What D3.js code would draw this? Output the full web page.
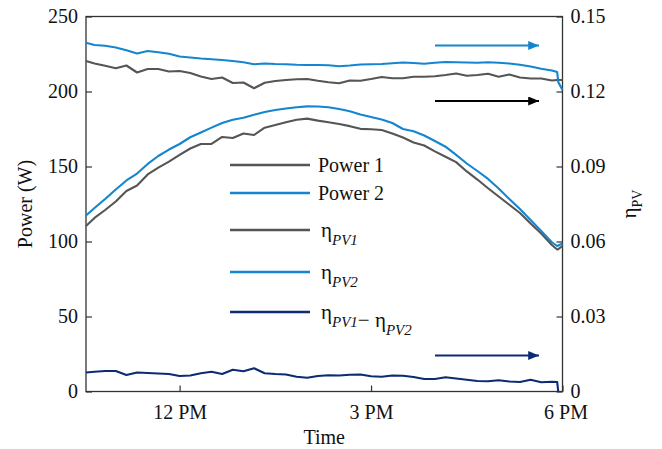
<!DOCTYPE html>
<html>
<head>
<meta charset="utf-8">
<script src="https://cdn.jsdelivr.net/npm/d3@7"></script>
<style>
  body { margin: 0; background: #fff; }
</style>
</head>
<body>
<div id="chart"></div>
<script>
'use strict';

// sample times (clock)
var times = ["10:32", "10:40", "10:50", "11:00", "11:10", "11:20", "11:30", "11:40", "11:50",
    "12:00", "12:10", "12:20", "12:30", "12:40", "12:50", "13:00", "13:10", "13:20", "13:30",
    "13:40", "13:50", "14:00", "14:10", "14:20", "14:30", "14:40", "14:50", "15:00", "15:10",
    "15:20", "15:30", "15:40", "15:50", "16:00", "16:10", "16:20", "16:30", "16:40", "16:50",
    "17:00", "17:10", "17:20", "17:30", "17:40", "17:50", "17:55", "17:56", "18:00"];

// W, left axis
var power1 = [110.3, 115.7, 121, 126.7, 133.7, 137.3, 144.7, 149.3, 153.2,
    157.7, 162, 165, 165.1, 169.7, 169, 172, 171, 175.9, 177.7,
    179.5, 181.2, 181.9, 180.6, 179.5, 178.3, 176.9, 175.1, 174.8, 174.3,
    172, 169.3, 166, 164, 160.1, 156.5, 152.9, 146.7, 141.3, 135.5,
    130, 124.5, 119, 112, 105.3, 97.7, 94.7, 94.9, 97];

var power2 = [117.3, 122.3, 128.3, 134.7, 140.7, 145.3, 151.7, 157, 161.3,
    165, 169.5, 172.7, 175.9, 179, 181.2, 182.5, 184.5, 186.3, 187.7,
    188.7, 189.5, 190.1, 190, 189.5, 188.3, 186.8, 184.7, 183, 181.4,
    179, 175, 173.5, 170.7, 167, 163.2, 157.7, 152, 147, 141.7,
    135.3, 128.3, 121.7, 114.3, 107, 99.5, 97, 97.3, 98.7];

// efficiency, right axis
var etaPV1 = [0.1322, 0.1312, 0.1303, 0.1293, 0.1304, 0.1276, 0.129, 0.129, 0.128,
    0.1282, 0.1274, 0.126, 0.125, 0.1256, 0.1234, 0.1236, 0.1213, 0.1235, 0.1242,
    0.1246, 0.1249, 0.125, 0.1243, 0.1237, 0.1233, 0.1244, 0.1243, 0.125, 0.1258,
    0.1253, 0.1253, 0.1259, 0.1259, 0.1261, 0.1266, 0.1272, 0.1263, 0.1266, 0.1271,
    0.1259, 0.1268, 0.1256, 0.1252, 0.1252, 0.1244, 0.1246, 0.1246, 0.1246];

var etaPV2 = [0.1395, 0.1386, 0.1383, 0.1376, 0.1365, 0.1352, 0.1362, 0.1357, 0.1351,
    0.134, 0.1336, 0.1332, 0.1329, 0.1326, 0.1322, 0.1317, 0.1309, 0.1312, 0.131,
    0.1309, 0.1307, 0.1306, 0.1306, 0.1305, 0.1301, 0.1304, 0.1308, 0.1309, 0.131,
    0.1313, 0.1316, 0.1314, 0.1311, 0.1315, 0.1318, 0.1317, 0.1316, 0.1315, 0.1317,
    0.1315, 0.1312, 0.1307, 0.13, 0.1291, 0.1284, 0.1278, 0.1238, 0.1206];

var etaDiff = [0.0076, 0.0079, 0.0082, 0.0082, 0.0066, 0.0076, 0.0074, 0.0072, 0.007,
    0.0062, 0.0064, 0.0073, 0.0079, 0.007, 0.0087, 0.0081, 0.0093, 0.0073, 0.007,
    0.0068, 0.0059, 0.0055, 0.0062, 0.0065, 0.0064, 0.0067, 0.0068, 0.0061, 0.0059,
    0.0064, 0.0063, 0.0058, 0.005, 0.005, 0.0057, 0.0052, 0.0047, 0.0042, 0.0041,
    0.0045, 0.004, 0.0038, 0.0047, 0.0037, 0.0039, 0.0038, 0, null];

var powerTicks = [0, 50, 100, 150, 200, 250];
var etaTicks = [0, 0.03, 0.06, 0.09, 0.12, 0.15];
var hourTicks = [12, 15, 18];
var hourLabels = ["12 PM", "3 PM", "6 PM"];

var width = 662, height = 449;
var plotLeft = 86, plotRight = 562.5, plotTop = 16.5, plotBottom = 391.5;
var serif = "'Liberation Serif', 'Times New Roman', Times, serif";

var toHours = function (s) {
    var p = s.split(":");
    return +p[0] + (+p[1]) / 60;
};
var hours = times.map(toHours);

var svg = d3.select("#chart").append("svg")
    .attr("width", width)
    .attr("height", height)
    .style("font-family", serif);

var x = d3.scaleLinear().domain([hours[0], 18]).range([plotLeft, plotRight]);
var yPower = d3.scaleLinear().domain([0, 250]).range([plotBottom, plotTop]);
var yEta = d3.scaleLinear().domain([0, 0.15]).range([plotBottom, plotTop]);

var colGray = "#555555", colBlue = "#1386cf", colNavy = "#0c2b72";

// axes, ticks pointing inward
var axisLeft = d3.axisLeft(yPower).tickValues(powerTicks).tickSizeInner(-6).tickSizeOuter(0).tickPadding(8);
var axisRight = d3.axisRight(yEta).tickValues(etaTicks).tickSizeInner(-6).tickSizeOuter(0).tickPadding(8)
    .tickFormat(function (d) { return d === 0 ? "0" : d3.format(".2f")(d); });
var axisBottom = d3.axisBottom(x).tickValues(hourTicks).tickSizeInner(-6).tickSizeOuter(0).tickPadding(13.5)
    .tickFormat(function (d, i) { return hourLabels[i]; });

var styleAxis = function (g) {
    g.attr("font-family", null);
    g.select(".domain").remove();
    g.selectAll(".tick line").attr("stroke", "#333").attr("stroke-width", 1.2);
    g.selectAll(".tick text").style("font-size", "20px").attr("fill", "#111");
};

svg.append("g").attr("transform", "translate(" + plotLeft + ",0)").call(axisLeft).call(styleAxis);
svg.append("g").attr("transform", "translate(" + plotRight + ",0)").call(axisRight).call(styleAxis);
var gx = svg.append("g").attr("transform", "translate(0," + plotBottom + ")").call(axisBottom).call(styleAxis);
// last label sits a bit right of its tick, as in the original
gx.selectAll(".tick text").filter(function (d) { return d === 18; }).attr("dx", 3);

svg.append("rect")
    .attr("x", plotLeft)
    .attr("y", plotTop)
    .attr("width", plotRight - plotLeft)
    .attr("height", plotBottom - plotTop)
    .attr("fill", "none")
    .attr("stroke", "#333")
    .attr("stroke-width", 1.3);

// series
var series = [
    { values: power1, y: yPower, color: colGray },
    { values: power2, y: yPower, color: colBlue },
    { values: etaPV1, y: yEta, color: colGray },
    { values: etaPV2, y: yEta, color: colBlue },
    { values: etaDiff, y: yEta, color: colNavy }
];

series.forEach(function (s) {
    var line = d3.line()
        .defined(function (d) { return d !== null; })
        .x(function (d, i) { return x(hours[i]); })
        .y(function (d) { return s.y(d); });
    svg.append("path")
        .datum(s.values)
        .attr("d", line)
        .attr("fill", "none")
        .attr("stroke", s.color)
        .attr("stroke-width", 2.1)
        .attr("stroke-linejoin", "round");
});

// arrows showing which axis the curves belong to
var defs = svg.append("defs");
var arrows = [
    { id: "arrBlue", color: colBlue, y: 45.5 },
    { id: "arrBlack", color: "#000", y: 101 },
    { id: "arrNavy", color: colNavy, y: 355.5 }
];
arrows.forEach(function (a) {
    defs.append("marker")
        .attr("id", a.id)
        .attr("viewBox", "0 0 12 10")
        .attr("refX", 12)
        .attr("refY", 5)
        .attr("markerUnits", "userSpaceOnUse")
        .attr("markerWidth", 13)
        .attr("markerHeight", 9)
        .attr("orient", "auto")
        .append("path")
        .attr("d", "M0,0 L12,5 L0,10 Z")
        .attr("fill", a.color);
    svg.append("line")
        .attr("x1", 435)
        .attr("x2", 539)
        .attr("y1", a.y)
        .attr("y2", a.y)
        .attr("stroke", a.color)
        .attr("stroke-width", 2)
        .attr("marker-end", "url(#" + a.id + ")");
});

// legend
var legendItems = [
    { parts: [["Power 1", ""]], color: colGray, y: 165 },
    { parts: [["Power 2", ""]], color: colBlue, y: 193 },
    { parts: [["\u03b7", "PV1"]], color: colGray, y: 230 },
    { parts: [["\u03b7", "PV2"]], color: colBlue, y: 272 },
    { parts: [["\u03b7", "PV1"], ["\u2212 \u03b7", "PV2"]], color: colNavy, y: 312 }
];

legendItems.forEach(function (item) {
    svg.append("line")
        .attr("x1", 230)
        .attr("x2", 310)
        .attr("y1", item.y)
        .attr("y2", item.y)
        .attr("stroke", item.color)
        .attr("stroke-width", 2.4);

    var isEta = item.parts[0][1] !== "";
    var t = svg.append("text")
        .attr("x", isEta ? 321 : 318)
        .attr("y", item.y + 7)
        .style("font-size", "20px");

    item.parts.forEach(function (p) {
        t.append("tspan").text(p[0]).style("font-size", isEta ? "21px" : "20px");
        if (p[1]) {
            t.append("tspan")
                .attr("dy", 8)
                .style("font-size", "15px")
                .style("font-style", "italic")
                .text(p[1]);
            t.append("tspan").attr("dy", -8).text("");
        }
    });
});

// axis titles
svg.append("text")
    .attr("transform", "translate(32," + ((plotTop + plotBottom) / 2) + ") rotate(-90)")
    .attr("text-anchor", "middle")
    .style("font-size", "20px")
    .text("Power (W)");

var etaTitle = svg.append("text")
    .attr("transform", "translate(636," + (plotTop + plotBottom) / 2 + ") rotate(-90)")
    .attr("text-anchor", "middle")
    .style("font-size", "21px");
etaTitle.append("tspan").text("\u03b7");
etaTitle.append("tspan").attr("dy", 6).style("font-size", "14px").text("PV");

svg.append("text")
    .attr("x", (plotLeft + plotRight) / 2)
    .attr("y", 444)
    .attr("text-anchor", "middle")
    .style("font-size", "20px")
    .text("Time");

svg.selectAll("text").style("font-family", serif).style("fill", "#111");
</script>
</body>
</html>
